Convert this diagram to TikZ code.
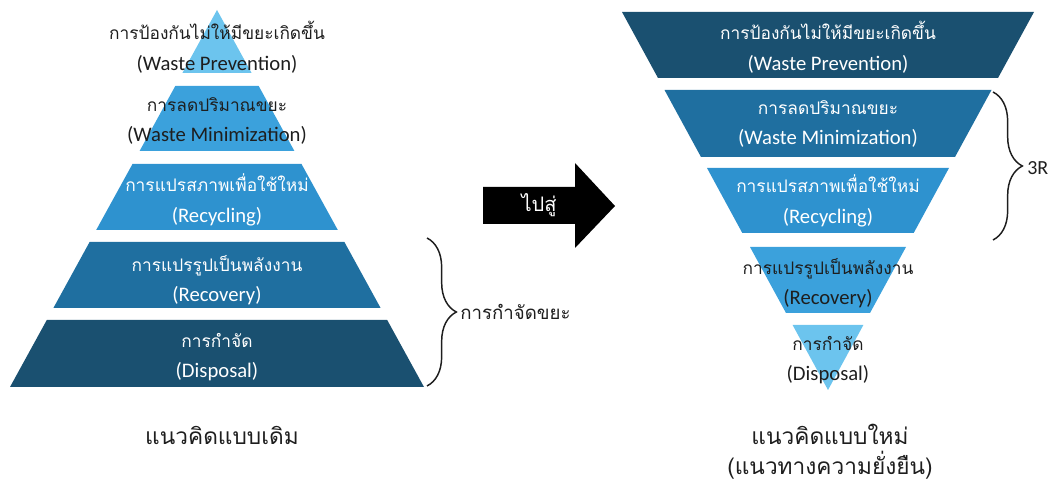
\documentclass[tikz,border=0pt]{standalone}
\usepackage{fontspec}
\setmainfont{Carlito}
\newfontfamily\thaifont[Script=Thai]{Loma}
\newcommand{\thtext}[1]{{\thaifont\fontsize{13}{23}\selectfont #1}}
\usetikzlibrary{decorations.pathreplacing}
\definecolor{tierlight}{HTML}{6CC4EE}
\definecolor{tiermid}{HTML}{3BA1DC}
\definecolor{tierblue}{HTML}{2E92CF}
\definecolor{tierdeep}{HTML}{1F6FA0}
\definecolor{tierdark}{HTML}{1A5070}
\definecolor{inkgray}{HTML}{1E1E1E}

\begin{document}
\begin{tikzpicture}[
    x=0.75pt, y=-0.75pt,
    lbl/.style={align=center, font=\fontsize{15.5}{23}\selectfont, inner sep=0pt},
    darklbl/.style={lbl, text=inkgray},
    lightlbl/.style={lbl, text=white},
    caption/.style={font=\thaifont\fontsize{17}{20}\selectfont, text=inkgray, inner sep=0pt},
    bracelbl/.style={anchor=west, font=\thaifont\fontsize{14}{16}\selectfont, text=inkgray, inner sep=0pt},
    brc/.style={decorate, decoration={brace, amplitude=22pt}, line width=1.1pt, inkgray},
]
    \useasboundingbox (0,0) rectangle (1054,484);

    % Old pyramid
    \fill[tierlight] (217,10) -- (251.6,73) -- (182.4,73) -- cycle;
    \fill[tiermid] (175.3,86) -- (258.7,86) -- (294.4,151) -- (139.6,151) -- cycle;
    \fill[tierblue] (132.5,164) -- (301.5,164) -- (337.8,230) -- (96.2,230) -- cycle;
    \fill[tierdeep] (89.6,242) -- (344.4,242) -- (380.6,308) -- (53.4,308) -- cycle;
    \fill[tierdark] (46.8,320) -- (387.2,320) -- (424,387) -- (10,387) -- cycle;

    \node[darklbl] (prevold) at (217,47) {\thtext{การป้องกันไม่ให้มีขยะเกิดขึ้น}\\(Waste Prevention)};
    \node[darklbl] (minold) at (217,121) {\thtext{การลดปริมาณขยะ}\\(Waste Minimization)};
    \node[lightlbl] (recyold) at (217,200) {\thtext{การแปรสภาพเพื่อใช้ใหม่}\\(Recycling)};
    \node[lightlbl] (recoold) at (217,280) {\thtext{การแปรรูปเป็นพลังงาน}\\(Recovery)};
    \node[lightlbl] (dispold) at (217,357) {\thtext{การกำจัด}\\(Disposal)};

    % Brace for disposal
    \coordinate (oldtop) at (427,238);
    \coordinate (oldbot) at (427,386);
    \draw[brc] (oldtop) -- (oldbot);
    \node[bracelbl] (disposal) at (460,312) {การกำจัดขยะ};

    \node[caption] (oldcap) at (222,435) {แนวคิดแบบเดิม};

    % Block arrow
    \fill[black] (483,187) -- (575,187) -- (575,163) -- (615,206) -- (575,248) -- (575,224) -- (483,224) -- cycle;
    \node[font=\thaifont\fontsize{15}{17}\selectfont, text=white] (towards) at (539,205) {ไปสู่};

    % New (inverted) pyramid
    \fill[tierdark] (622,12) -- (1034,12) -- (998,78) -- (658,78) -- cycle;
    \fill[tierdeep] (664.5,90) -- (991.5,90) -- (955,157) -- (701,157) -- cycle;
    \fill[tierblue] (707,168) -- (949,168) -- (913.7,233) -- (742.3,233) -- cycle;
    \fill[tiermid] (750,247) -- (906,247) -- (870,313) -- (786,313) -- cycle;
    \fill[tierlight] (792.6,325) -- (863.4,325) -- (828,390) -- cycle;

    \node[lightlbl] (prevnew) at (828,47) {\thtext{การป้องกันไม่ให้มีขยะเกิดขึ้น}\\(Waste Prevention)};
    \node[lightlbl] (minnew) at (828,124) {\thtext{การลดปริมาณขยะ}\\(Waste Minimization)};
    \node[lightlbl] (recynew) at (828,201) {\thtext{การแปรสภาพเพื่อใช้ใหม่}\\(Recycling)};
    \node[darklbl] (reconew) at (828,283) {\thtext{การแปรรูปเป็นพลังงาน}\\(Recovery)};
    \node[darklbl] (dispnew) at (828,360) {\thtext{การกำจัด}\\(Disposal)};

    % Brace for 3R
    \coordinate (newtop) at (993,92);
    \coordinate (newbot) at (993,240);
    \draw[brc] (newtop) -- (newbot);
    \node[bracelbl, font=\fontsize{15}{17}\selectfont] (threer) at (1027,168) {3R};

    \node[caption] (newcap) at (830,434) {แนวคิดแบบใหม่};
    \node[caption] (newsub) at (830,465) {(แนวทางความยั่งยืน)};
\end{tikzpicture}
\end{document}
